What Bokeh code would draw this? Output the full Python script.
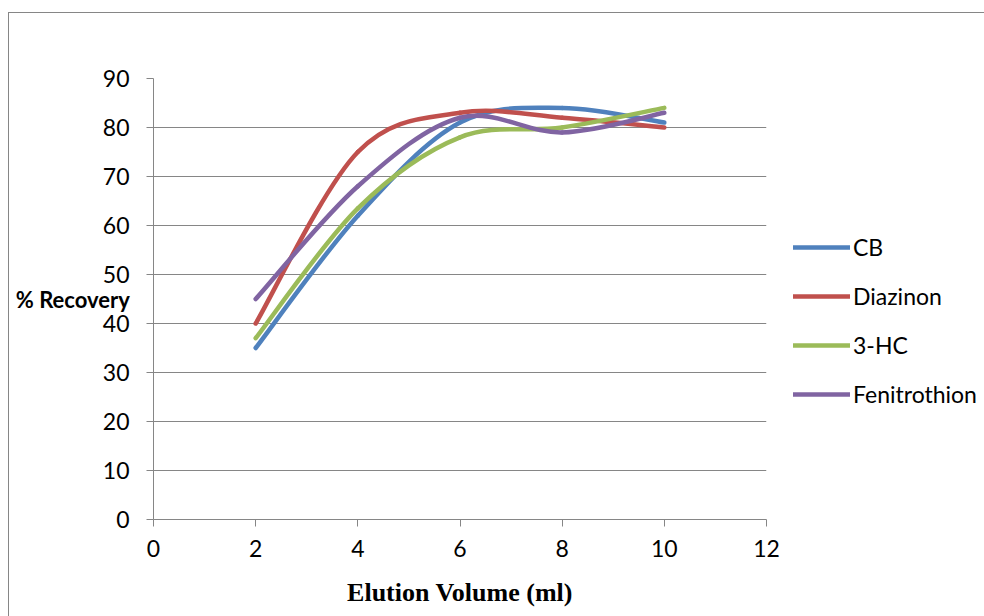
from bokeh.plotting import figure
from bokeh.models import (Range1d, FixedTicker, Legend, LegendItem,
                          ColumnDataSource)
from bokeh.layouts import row
from bokeh.embed import file_html
from bokeh.resources import INLINE

# ---- data ----
volume = [2, 4, 6, 8, 10]
cb = [35, 62, 81, 84, 81]
diazinon = [40, 75, 83, 82, 80]
hc3 = [37, 63.5, 78, 80, 84]
fenitrothion = [45, 68, 82, 79, 83]

series_names = ["CB", "Diazinon", "3-HC", "Fenitrothion"]
series_values = [cb, diazinon, hc3, fenitrothion]
series_colors = ["#4F81BD", "#C0504D", "#9BBB59", "#8064A2"]

x_ticks = [0, 2, 4, 6, 8, 10, 12]
y_ticks = [0, 10, 20, 30, 40, 50, 60, 70, 80, 90]

GRAY = "#868686"
FONT = "Lato"

p = figure(width=777, height=603, output_backend="svg", toolbar_location=None,
           x_range=Range1d(0, 12), y_range=Range1d(0, 90),
           min_border_left=144, min_border_right=20,
           min_border_top=65, min_border_bottom=97)
p.outline_line_color = None
p.background_fill_color = "white"
p.border_fill_color = "white"

# axes
for ax in (p.xaxis[0], p.yaxis[0]):
    ax.axis_line_color = GRAY
    ax.axis_line_width = 1
    ax.major_tick_line_color = GRAY
    ax.major_tick_out = 7
    ax.major_tick_in = 0
    ax.minor_tick_line_color = None
    ax.major_label_text_font = FONT
    ax.major_label_text_font_size = "23px"
    ax.major_label_text_color = "black"

p.xaxis.ticker = FixedTicker(ticks=x_ticks)
p.yaxis.ticker = FixedTicker(ticks=y_ticks)
p.xaxis.major_label_standoff = 13
p.yaxis.major_label_standoff = 17

p.xaxis.axis_label = "Elution Volume (ml)"
p.xaxis.axis_label_text_font = "Liberation Serif"
p.xaxis.axis_label_text_font_style = "bold"
p.xaxis.axis_label_text_font_size = "26px"
p.xaxis.axis_label_text_color = "black"
p.xaxis.axis_label_standoff = 18

p.yaxis.axis_label = "% Recovery"
p.yaxis.axis_label_orientation = "horizontal"
p.yaxis.axis_label_text_font = FONT
p.yaxis.axis_label_text_font_style = "bold"
p.yaxis.axis_label_text_font_size = "22px"
p.yaxis.axis_label_text_color = "black"
p.yaxis.axis_label_standoff = -30

p.xgrid.grid_line_color = None
p.ygrid.grid_line_color = GRAY
p.ygrid.grid_line_width = 1

# smoothed lines (Excel-style bezier through the data points)
for name, vals, col in zip(series_names, series_values, series_colors):
    n = len(volume)
    px = [volume[0]] + volume + [volume[-1]]
    py = [vals[0]] + vals + [vals[-1]]
    d = dict(x0=[], y0=[], x1=[], y1=[], cx0=[], cy0=[], cx1=[], cy1=[])
    for i in range(n - 1):
        j = i + 1
        d["x0"].append(px[j]); d["y0"].append(py[j])
        d["x1"].append(px[j + 1]); d["y1"].append(py[j + 1])
        d["cx0"].append(px[j] + (px[j + 1] - px[j - 1]) / 6)
        d["cy0"].append(py[j] + (py[j + 1] - py[j - 1]) / 6)
        d["cx1"].append(px[j + 1] - (px[j + 2] - px[j]) / 6)
        d["cy1"].append(py[j + 1] - (py[j + 2] - py[j]) / 6)
    p.bezier(x0="x0", y0="y0", x1="x1", y1="y1", cx0="cx0", cy0="cy0",
             cx1="cx1", cy1="cy1", source=ColumnDataSource(d),
             line_color=col, line_width=4.5, line_cap="round")

# legend panel (right of the plot area); its series lie outside its view
lp = figure(width=198, height=603, output_backend="svg", toolbar_location=None,
            x_axis_type=None, y_axis_type=None,
            x_range=Range1d(1000, 1001), y_range=Range1d(1000, 1001),
            min_border=0)
lp.outline_line_color = None
lp.grid.grid_line_color = None
lp.background_fill_color = "white"
lp.border_fill_color = "white"
items = []
for name, vals, col in zip(series_names, series_values, series_colors):
    r = lp.line(x=volume, y=vals, line_color=col, line_width=4.5,
                line_cap="round")
    items.append(LegendItem(label=name, renderers=[r]))
legend = Legend(items=items, location=(7, 111), orientation="vertical",
                glyph_width=57, glyph_height=26, label_height=26,
                label_standoff=3, spacing=21, padding=0, margin=0,
                border_line_color=None, background_fill_alpha=0,
                label_text_font=FONT, label_text_font_size="23px",
                label_text_color="black")
lp.add_layout(legend, "center")

layout = row(p, lp, spacing=0,
             styles={"margin-left": "8px", "margin-top": "12px",
                     "border-left": "1px solid #868686",
                     "border-top": "1px solid #868686"})

open("out.html", "w").write(file_html(layout, INLINE))
